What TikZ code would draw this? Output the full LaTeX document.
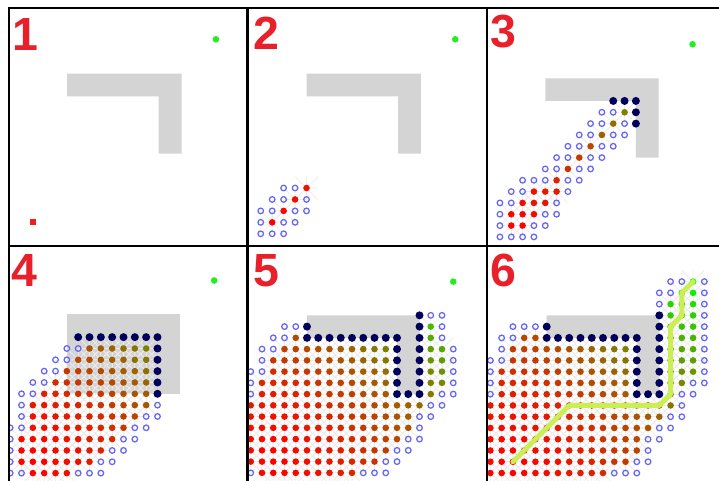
\documentclass[tikz,border=0pt]{standalone}
\usepackage{fontspec}
\setmainfont{Liberation Sans}
\definecolor{WallGray}{HTML}{D4D4D4}
\definecolor{OpenBlue}{HTML}{6666F2}
\definecolor{WallNavy}{HTML}{00005C}
\definecolor{GoalGreen}{HTML}{22EE22}
\definecolor{StartRed}{HTML}{EE1C24}
\definecolor{StepRed}{HTML}{E8202A}
\definecolor{PathLime}{HTML}{CCEE55}
\definecolor{LinkGray}{HTML}{ECECEC}

\tikzset{
  wall/.style={fill=WallGray},
  openring/.style={draw=OpenBlue,line width=1.25pt},
  navydot/.style={fill=WallNavy},
  goaldot/.style={fill=GoalGreen},
  link/.style={draw=LinkGray,line width=0.7pt},
  route/.style={draw=PathLime,line width=5pt,line join=round,line cap=round},
  frame/.style={draw=black,line width=2.3pt},
  stepnum/.style={font=\fontsize{46.5}{46.5}\selectfont\bfseries,text=StepRed,anchor=base west,inner sep=0pt},
}

% grid helpers, rows given as row/first/last
\newcommand{\wallL}{\fill[wall] (5,3) -- (15,3) -- (15,10) -- (13,10) -- (13,5) -- (5,5) -- cycle;}
\newcommand{\goalat}{\fill[goaldot] (18,0) circle (3.3pt);}
\newcommand{\openrows}[1]{\edef\rowlist{#1}\foreach \ry/\ca/\cb in \rowlist {\foreach \cx in {\ca,...,\cb} {\draw[openring] (\cx,\ry) circle (2.8pt);}}}
\newcommand{\navyrows}[1]{\edef\rowlist{#1}\foreach \ry/\ca/\cb in \rowlist {\foreach \cx in {\ca,...,\cb} {\fill[navydot] (\cx,\ry) circle (4pt);}}}
\newcommand{\linkrows}[1]{\edef\rowlist{#1}\foreach \ry/\ca/\cb in \rowlist {\foreach \cx in {\ca,...,\cb} {%
  \draw[link] (\cx-1,\ry-1) -- (\cx+1,\ry+1) (\cx-1,\ry+1) -- (\cx+1,\ry-1)
    (\cx-1,\ry) -- (\cx+1,\ry) (\cx,\ry-1) -- (\cx,\ry+1);}}}
\newcommand{\seenrows}[1]{\edef\rowlist{#1}\foreach \ry/\ca/\cb in \rowlist {\foreach \cx in {\ca,...,\cb} {%
  \pgfmathsetmacro{\gdist}{veclen(\cx-2,\ry-16)}%
  \pgfmathsetmacro{\hdist}{veclen(18-\cx,\ry)}%
  \pgfmathsetmacro{\mixt}{\gdist/(\gdist+\hdist)}%
  \pgfmathtruncatemacro{\redpct}{100*(1-\mixt*sqrt(\mixt))}%
  \fill[red!\redpct!green] (\cx,\ry) circle (3.3pt);}}}

% search states
\def\seentwo{13/5/5, 14/4/4, 15/3/3, 16/2/2}
\def\seenthree{6/12/12, 7/11/11, 8/10/10, 9/9/9, 10/8/8, 11/7/7, 12/6/6, 13/4/6, 14/3/5, 15/2/4, 16/2/3}
\def\seenfour{6/7/12, 7/6/12, 8/5/12, 9/4/12, 10/3/12, 11/2/12, 12/2/11, 13/2/10, 14/1/9, 15/1/8, 16/1/7, 17/2/5}
\def\seenfive{4/16/16, 5/4/4, 5/16/16, 6/3/12, 6/16/17, 7/2/12, 7/16/17, 8/2/12, 8/16/17, 9/1/12, 9/16/17, 10/1/12, 10/16/16, 11/0/15, 12/0/14, 13/0/14, 14/0/13, 15/0/12, 16/0/11, 17/1/9}
\def\seensix{0/18/18, 1/17/18, 2/16/18, 3/16/18, 4/16/18, 5/3/4, 5/16/18, 6/2/12, 6/16/18, 7/2/12, 7/16/18, 8/1/12, 8/16/18, 9/1/12, 9/16/17, 10/1/12, 10/16/16, 11/0/16, 12/0/15, 13/0/14, 14/0/13, 15/0/13, 16/0/12, 17/0/10}
\def\navyfive{3/15/15, 4/5/5, 4/15/15, 5/5/13, 5/15/15, 6/13/13, 6/15/15, 7/13/13, 7/15/15, 8/13/13, 8/15/15, 9/13/13, 9/15/15, 10/13/15}

\begin{document}
\begin{tikzpicture}[x=1pt,y=-1pt]
\useasboundingbox (0,0) rectangle (719,481);
\fill[white] (0,0) rectangle (719,481);

% panel 1
\begin{scope}
\clip (9,8) rectangle (247.5,246);
\begin{scope}[shift={(10,39.3)},x=11.44pt,y=-11.44pt]
  \wallL
  \fill[StartRed] (2,16) ++(-3pt,-3pt) rectangle ++(6pt,6pt);
  \goalat
\end{scope}
\end{scope}
\node[stepnum] (n1) at (12.3,50.5) {1};

% panel 2
\begin{scope}
\clip (247.5,8) rectangle (487,246);
\begin{scope}[shift={(249.3,39.3)},x=11.44pt,y=-11.44pt]
  \wallL
  \linkrows{\seentwo}
  \openrows{13/3/4, 14/2/3, 14/5/5, 15/1/2, 15/4/5, 16/1/1, 16/3/4, 17/1/3}
  \seenrows{\seentwo}
  \goalat
\end{scope}
\end{scope}
\node[stepnum] (n2) at (252.9,50) {2};

% panel 3
\begin{scope}
\clip (487,8) rectangle (719,246);
\begin{scope}[shift={(488.6,44.3)},x=11.33pt,y=-11.33pt]
  \wallL
  \linkrows{\seenthree}
  \openrows{6/10/11, 7/9/10, 7/12/12, 8/8/9, 8/11/12, 9/7/8, 9/10/11, 10/6/7, 10/9/10, 11/5/6, 11/8/9, 12/3/5, 12/7/8, 13/2/3, 13/7/7, 14/1/2, 14/6/6, 15/1/1, 15/5/6, 16/1/1, 16/4/5, 17/1/4}
  \seenrows{\seenthree}
  \navyrows{5/11/13, 6/13/13, 7/13/13}
  \goalat
\end{scope}
\end{scope}
\node[stepnum] (n3) at (490.4,48) {3};

% panel 4
\begin{scope}
\clip (9,246) rectangle (247.5,481);
\begin{scope}[shift={(10.2,280.5)},x=11.33pt,y=-11.33pt]
  \fill[wall] (5,3) rectangle (15,10);
  \linkrows{\seenfour}
  \openrows{6/5/6, 7/4/5, 8/3/4, 9/2/3, 10/1/2, 11/1/1, 11/13/13, 12/1/1, 12/12/13, 13/0/1, 13/11/12, 14/0/0, 14/10/11, 15/0/0, 15/9/10, 16/0/0, 16/8/9, 17/0/1, 17/6/8, 18/0/5}
  \seenrows{\seenfour}
  \navyrows{5/6/13, 6/13/13, 7/13/13, 8/13/13, 9/13/13, 10/13/13}
  \goalat
\end{scope}
\end{scope}
\node[stepnum] (n4) at (11.8,286) {4};

% panel 5
\begin{scope}
\clip (247.5,246) rectangle (487,481);
\begin{scope}[shift={(250.75,281.6)},x=11.25pt,y=-11.25pt]
  \wallL
  \linkrows{\seenfive}
  \openrows{3/16/17, 4/3/4, 4/17/17, 5/2/3, 5/17/17, 6/1/2, 6/18/18, 7/1/1, 7/18/18, 8/0/1, 8/18/18, 9/0/0, 9/18/18, 10/0/0, 10/17/18, 11/16/17, 12/15/16, 13/15/15, 14/14/15, 15/13/14, 16/12/13, 17/0/0, 17/10/12}
  \seenrows{\seenfive}
  \navyrows{\navyfive}
  \goalat
\end{scope}
\end{scope}
\node[stepnum] (n5) at (253.1,286) {5};

% panel 6
\begin{scope}
\clip (487,246) rectangle (719,481);
\begin{scope}[shift={(490.4,281.6)},x=11.26pt,y=-11.26pt]
  \wallL
  \linkrows{\seensix}
  \openrows{0/16/17, 0/19/19, 1/15/16, 1/19/19, 2/15/15, 2/19/19, 3/19/19, 4/2/4, 4/19/19, 5/1/2, 5/19/19, 6/1/1, 6/19/19, 7/0/1, 7/19/19, 8/0/0, 8/19/19, 9/0/0, 9/18/19, 10/0/0, 10/17/18, 11/17/17, 12/16/17, 13/15/16, 14/14/15, 15/14/14, 16/13/14, 17/11/13}
  \seenrows{\seensix}
  \navyrows{\navyfive}
  \draw[route] (2,16) -- (7,11) -- (15,11) -- (16,10) -- (16,4) -- (17,3) -- (17,1) -- (18,0);
\end{scope}
\end{scope}
\node[stepnum] (n6) at (490.4,286) {6};

% frames
\draw[frame] (9,481) -- (9,8) -- (719,8);
\draw[frame] (247.5,8) -- (247.5,481);
\draw[frame] (487,8) -- (487,481);
\draw[frame] (9,246) -- (719,246);
\end{tikzpicture}
\end{document}
